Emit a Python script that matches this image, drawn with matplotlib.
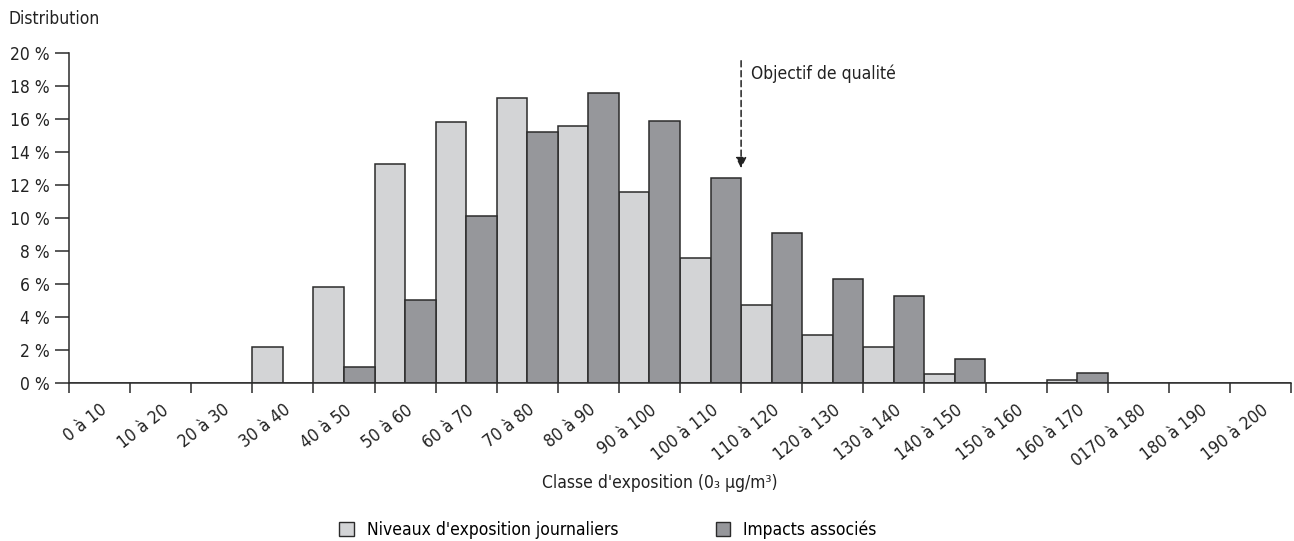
import matplotlib
matplotlib.use("Agg")
import matplotlib.pyplot as plt
import matplotlib.transforms as mtransforms
import numpy as np
from matplotlib.patches import Patch

plt.rcParams["font.family"] = ["DejaVu Sans"]
plt.rcParams["font.stretch"] = "condensed"

classes = ["0 à 10", "10 à 20", "20 à 30", "30 à 40", "40 à 50", "50 à 60",
           "60 à 70", "70 à 80", "80 à 90", "90 à 100", "100 à 110", "110 à 120",
           "120 à 130", "130 à 140", "140 à 150", "150 à 160", "160 à 170",
           "0170 à 180", "180 à 190", "190 à 200"]
niveaux = [0, 0, 0, 2.2, 5.8, 13.3, 15.8, 17.3, 15.6, 11.6, 7.6, 4.7,
           2.9, 2.2, 0.55, 0, 0.18, 0, 0, 0]
impacts = [0, 0, 0, 0, 1.0, 5.05, 10.1, 15.2, 17.6, 15.85, 12.45, 9.07,
           6.3, 5.25, 1.43, 0, 0.58, 0, 0, 0]
yticks = [0, 2, 4, 6, 8, 10, 12, 14, 16, 18, 20]
objectif_pos = 10.5  # boundary between 100-110 and 110-120

light = "#d3d4d6"
dark = "#96979b"
edge = "#2b2b2b"
txt = "#222222"
fs = 12.5

fig = plt.figure(figsize=(12.94, 5.41), dpi=100)
ax = fig.add_axes([69 / 1294, 1 - 383 / 541, (1291 - 69) / 1294, (383 - 53) / 541])

x = np.arange(len(classes))
ax.bar(x - 0.25, niveaux, width=0.5, color=light, edgecolor=edge, linewidth=1.1)
ax.bar(x + 0.25, impacts, width=0.5, color=dark, edgecolor=edge, linewidth=1.1)

ax.set_xlim(-0.5, len(classes) - 0.5)
ax.set_ylim(0, 20)
ax.set_yticks(yticks)
ax.set_yticklabels([f"{v} %" for v in yticks], fontsize=fs, color=txt)

# ticks on class boundaries, labels on class centres
ax.set_xticks(np.arange(-0.5, len(classes)))
ax.set_xticklabels([])
ax.set_xticks(x, minor=True)
ax.set_xticklabels(classes, minor=True, rotation=38, ha="right",
                   rotation_mode="anchor", fontsize=fs, color=txt)
shift = mtransforms.ScaledTranslation(-9 / 100, 0, fig.dpi_scale_trans)
for lab in ax.get_xticklabels(minor=True):
    lab.set_transform(lab.get_transform() + shift)
ax.tick_params(axis="x", which="major", length=7, width=1.1, color=edge)
ax.tick_params(axis="x", which="minor", length=0, pad=13)
ax.tick_params(axis="y", length=10, width=1.1, color=edge, pad=4)

for s in ["top", "right"]:
    ax.spines[s].set_visible(False)
for s in ["left", "bottom"]:
    ax.spines[s].set_linewidth(1.1)
    ax.spines[s].set_color(edge)

# quality objective arrow
ax.annotate("", xy=(objectif_pos, 12.85), xytext=(objectif_pos, 19.7),
            arrowprops=dict(arrowstyle="-|>", linestyle=(0, (4, 2.5)), color=txt,
                            lw=1.1, mutation_scale=16))
ax.text(objectif_pos + 0.17, 18.75, "Objectif de qualité", fontsize=fs,
        color=txt, va="center", ha="left")

fig.text(8 / 1294, 1 - 19 / 541, "Distribution", fontsize=fs, color=txt, va="center")
fig.text(660 / 1294, 1 - 483 / 541, "Classe d'exposition (0₃ µg/m³)", fontsize=fs,
         color=txt, ha="center", va="center")

handles = [Patch(facecolor=light, edgecolor=edge, label="Niveaux d'exposition journaliers"),
           Patch(facecolor=dark, edgecolor=edge, label="Impacts associés")]
fig.legend(handles=handles, loc="center", bbox_to_anchor=(608 / 1294, 1 - 530 / 541),
           ncol=2, frameon=False, fontsize=fs, handlelength=0.85, handleheight=0.85,
           handletextpad=0.75, columnspacing=5.6)

fig.savefig("out.png", dpi=100)
